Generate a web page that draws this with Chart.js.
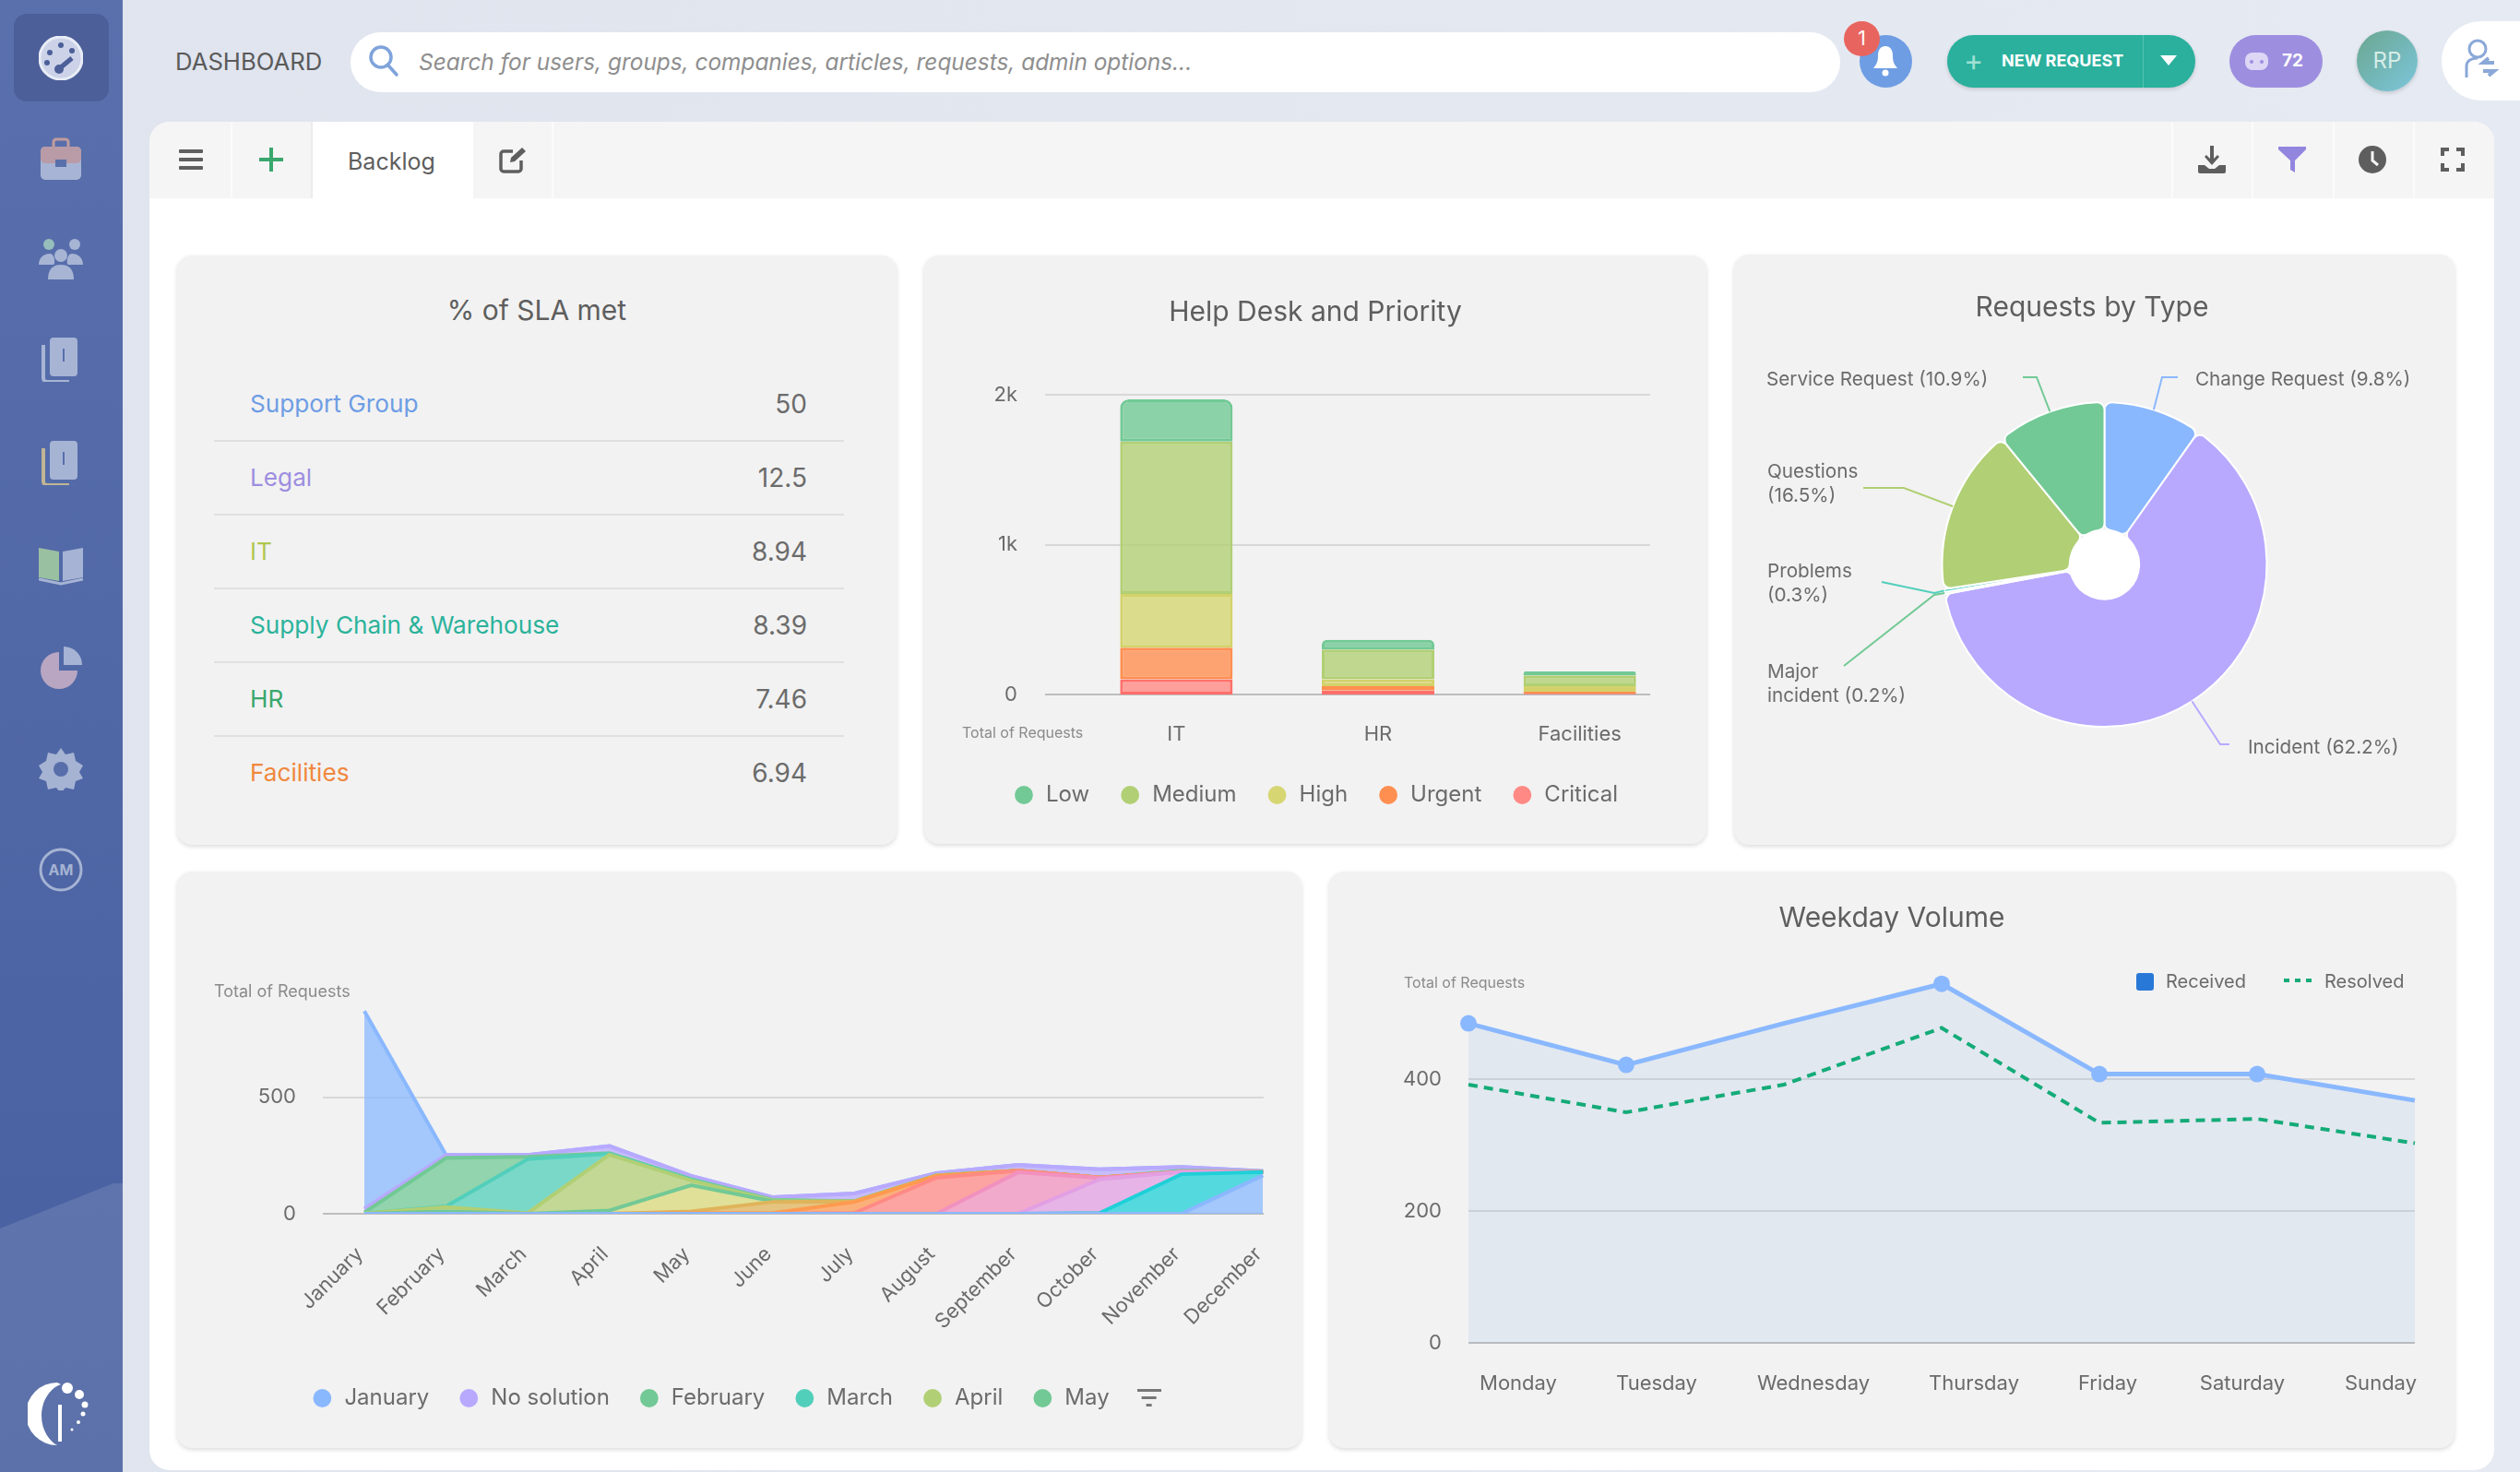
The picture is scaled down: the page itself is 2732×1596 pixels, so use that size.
<!DOCTYPE html>
<html>
<head>
<meta charset="utf-8">
<title>Dashboard</title>
<script src="https://cdn.jsdelivr.net/npm/chart.js@4/dist/chart.umd.min.js"></script>
<style>
  * { box-sizing: border-box; }
  html, body { margin: 0; width: 2732px; height: 1596px; overflow: hidden; font-family: Inter, sans-serif; color: #5e5e5e; }
  body { background: linear-gradient(90deg, #dfe4ee, #e6eaf2); position: relative; }
  .abs { position: absolute; }
  .side { left: 0; top: 0; width: 133px; height: 1596px; background: linear-gradient(180deg, #5a70ad, #4a62a2 82%); }
  .side-low { left: 0; top: 1283px; width: 133px; height: 313px; background: linear-gradient(180deg, #5f74ac, #5c71a9); clip-path: polygon(0 49px, 123px 0, 100% 0, 100% 100%, 0 100%); }
  .side-on { left: 15px; top: 15px; width: 103px; height: 95px; border-radius: 14px; background: #4c5f99; }
  .search { left: 380px; top: 35px; width: 1615px; height: 65px; border-radius: 33px; background: #fff; }
  .panel { left: 162px; top: 132px; width: 2542px; height: 1462px; background: #fff; border-radius: 22px; overflow: hidden; }
  .tabbar { left: 0; top: 0; width: 100%; height: 83px; background: #f5f5f5; }
  .tabsep { top: 0; width: 2px; height: 83px; background: #fbfbfb; }
  .card { background: #f2f2f2; border-radius: 16px; box-shadow: 0 2px 5px rgba(0,0,0,.14); }
  .card canvas { position: absolute; left: 0; top: 0; }
  .card-title { position: absolute; text-align: center; font-size: 30px; line-height: 36px; color: #5e5e5e; }
  .sla-row { position: absolute; left: 40px; width: 683px; height: 80px; border-bottom: 2px solid #e0e0e0; font-size: 26.2px; line-height: 78px; }
  .sla-row span { position: absolute; }
  .sla-row .val { right: 40px; color: #6b6b6b; font-size: 28px; }
  .sla-row:last-child { border-bottom: 0; }
  #sideIcons svg { opacity: .82; }
  #sideIcons svg:first-child, #sideIcons svg:last-child { opacity: 1; }
</style>
</head>
<body>
<div class="abs side"></div>
<div class="abs side-low"></div>
<div class="abs side-on"></div>
<div id="sideIcons"></div>

<div class="abs" style="left:190px;top:51px;font-size:25.7px;line-height:32px;color:#5a5a5a">DASHBOARD</div>
<div class="abs search"></div>
<svg class="abs" style="left:398px;top:48px" width="36" height="36" viewBox="0 0 36 36" fill="none" stroke="#7fa3db" stroke-width="3.5" stroke-linecap="round"><circle cx="15" cy="14" r="11"/><path d="M23 23l9 10"/></svg>
<div class="abs" style="left:454px;top:51px;font-size:24.4px;line-height:32px;font-style:italic;color:#8e8e8e;white-space:nowrap">Search for users, groups, companies, articles, requests, admin options...</div>

<div class="abs" style="left:2016px;top:38px;width:57px;height:57px;border-radius:50%;background:#6e9de4"></div>
<svg class="abs" style="left:2029px;top:49px" width="30" height="34" viewBox="0 0 30 34" fill="#fff"><path d="M15 1c-5 0-8 4-8 10 0 8-2 10-5 14h26c-3-4-5-6-5-14 0-6-3-10-8-10z"/><circle cx="15" cy="30" r="3.5"/></svg>
<div class="abs" style="left:1999px;top:23px;width:39px;height:38px;border-radius:50%;background:#e8655f;color:#fff;font-size:21px;line-height:38px;text-align:center">1</div>

<div class="abs" style="left:2111px;top:38px;width:269px;height:57px;border-radius:29px;background:#2ab09d;box-shadow:0 2px 4px rgba(0,0,0,.15)"></div>
<div class="abs" style="left:2323px;top:38px;width:1px;height:57px;background:#55c2b2"></div>
<div class="abs" style="left:2129px;top:46px;font-size:32px;line-height:40px;color:#9fe0d2">+</div>
<div class="abs" style="left:2170px;top:54px;font-size:18px;line-height:24px;font-weight:700;color:#fff;white-space:nowrap">NEW REQUEST</div>
<div class="abs" style="left:2342px;top:60px;width:0;height:0;border-left:9px solid transparent;border-right:9px solid transparent;border-top:11px solid #fff"></div>

<div class="abs" style="left:2417px;top:38px;width:101px;height:57px;border-radius:29px;background:#9d8ee0"></div>
<svg class="abs" style="left:2434px;top:57px" width="25" height="20" viewBox="0 0 25 20"><rect width="25" height="19" rx="8" fill="#ddd6f5"/><circle cx="7" cy="10" r="2" fill="#9d8ee0"/><circle cx="18" cy="10" r="2" fill="#9d8ee0"/></svg>
<div class="abs" style="left:2474px;top:54px;font-size:19px;line-height:24px;font-weight:700;color:#fff">72</div>

<div class="abs" style="left:2555px;top:33px;width:66px;height:66px;border-radius:50%;background:linear-gradient(135deg,#6aa68f,#7cc6dc);box-shadow:0 2px 4px rgba(0,0,0,.15);color:#d6ede8;font-size:24px;line-height:66px;text-align:center">RP</div>
<div class="abs" style="left:2647px;top:23px;width:95px;height:86px;border-radius:43px 0 0 43px;background:#fff"></div>
<svg class="abs" style="left:2670px;top:42px" width="40" height="46" viewBox="0 0 40 46" fill="none" stroke="#8aa8d8" stroke-width="3"><circle cx="16" cy="11" r="9"/><path d="M4 42V30c0-6 5-9 12-9"/><path d="M34 26H22l6-5M22 35h12l-6 5" stroke-width="4"/></svg>

<div class="abs panel">
  <div class="abs tabbar"></div>
  <div class="abs" style="left:175px;top:0;width:176px;height:84px;background:#fff"></div>
  <div class="abs tabsep" style="left:88px"></div>
  <div class="abs tabsep" style="left:175px;background:#ececec"></div>
  <div class="abs tabsep" style="left:436px"></div>
  <div class="abs tabsep" style="left:2192px"></div>
  <div class="abs tabsep" style="left:2279px"></div>
  <div class="abs tabsep" style="left:2367px"></div>
  <div class="abs tabsep" style="left:2454px"></div>
  <svg class="abs" style="left:32px;top:28px" width="26" height="26" viewBox="0 0 26 26" fill="#5e5e5e"><rect y="2" width="26" height="4" rx="1"/><rect y="11" width="26" height="4" rx="1"/><rect y="20" width="26" height="4" rx="1"/></svg>
  <svg class="abs" style="left:119px;top:28px" width="26" height="26" viewBox="0 0 26 26" fill="#3aa76d"><rect x="11" width="4" height="26"/><rect y="11" width="26" height="4"/></svg>
  <div class="abs" style="left:215px;top:27px;font-size:25px;line-height:32px;color:#5e5e5e">Backlog</div>
  <svg class="abs" style="left:379px;top:26px" width="30" height="30" viewBox="0 0 30 30" fill="none" stroke="#5e5e5e" stroke-width="3.5"><path d="M15 6H5a3 3 0 0 0-3 3v16a3 3 0 0 0 3 3h16a3 3 0 0 0 3-3V16"/><path d="M12 18l1-5L25 2l4 4-12 11z" fill="#5e5e5e" stroke="none"/></svg>
  <svg class="abs" style="left:2221px;top:26px" width="30" height="30" viewBox="0 0 30 30" fill="#5e5e5e"><rect x="13" width="4" height="17"/><path d="M7 12l8 9 8-9-2-2-6 6-6-6z"/><path d="M0 21h7l5 4h6l5-4h7v7a2 2 0 0 1-2 2H2a2 2 0 0 1-2-2z"/></svg>
  <svg class="abs" style="left:2308px;top:27px" width="30" height="28" viewBox="0 0 30 28" fill="#9285de"><path d="M0 0h30v3L18 15v13l-5-3V15L0 3z"/></svg>
  <svg class="abs" style="left:2395px;top:26px" width="30" height="30" viewBox="0 0 30 30"><circle cx="15" cy="15" r="15" fill="#5e5e5e"/><path d="M15 6v10l6 5" fill="none" stroke="#f5f5f5" stroke-width="3"/></svg>
  <svg class="abs" style="left:2484px;top:28px" width="26" height="26" viewBox="0 0 26 26" fill="none" stroke="#5e5e5e" stroke-width="4"><path d="M2 9V2h7M17 2h7v7M24 17v7h-7M9 24H2v-7"/></svg>
</div>

<div class="abs card" id="slaCard" style="left:192px;top:277px;width:780px;height:639px">
  <div class="card-title" style="left:0;width:100%;top:41px">% of SLA met</div>
  <div id="slaRows"></div>
</div>
<div class="abs card" style="left:1002px;top:277px;width:848px;height:638px"><canvas id="chart-bar" width="848" height="638"></canvas></div>
<div class="abs card" style="left:1880px;top:276px;width:781px;height:640px">
  <canvas id="chart-pie" width="781" height="640"></canvas>
  <div class="card-title" style="left:0;width:776px;top:38px">Requests by Type</div>
</div>
<div class="abs card" style="left:192px;top:945px;width:1219px;height:625px"><canvas id="chart-area" width="1219" height="625"></canvas></div>
<div class="abs card" style="left:1441px;top:945px;width:1220px;height:625px"><canvas id="chart-line" width="1220" height="625"></canvas></div>

<script>
// % of SLA met
const slaNames  = ['Support Group', 'Legal', 'IT', 'Supply Chain & Warehouse', 'HR', 'Facilities'];
const slaValues = ['50', '12.5', '8.94', '8.39', '7.46', '6.94'];
const slaColors = ['#6e9de4', '#9d8ee0', '#b0c64e', '#2bb39b', '#3aa76d', '#f0883e'];

// Help Desk and Priority
const deskLabels = ['IT', 'HR', 'Facilities'];
const deskTicks  = [0, 1000, 2000];
const deskLow      = [282, 64, 26];
const deskMedium   = [1016, 198, 72];
const deskHigh     = [359, 46, 38];
const deskUrgent   = [210, 30, 13];
const deskCritical = [102, 26, 5];

// Requests by Type
const typeNames  = ['Change Request', 'Incident', 'Major incident', 'Problems', 'Questions', 'Service Request'];
const typeValues = [9.8, 62.2, 0.2, 0.3, 16.5, 10.9];
const typeColors = ['#8ab8ff', '#b8a9ff', '#72c995', '#52cfbb', '#b1cf74', '#72c995'];

// monthly stacked area, one list per series
const months = ['January', 'February', 'March', 'April', 'May', 'June', 'July', 'August', 'September', 'October', 'November', 'December'];
const areaTicks = [0, 500];
const serJanuary   = [850, 0, 0, 0, 0, 0, 0, 0, 0, 0, 0, 0];
const serNoSol     = [16, 13, 8, 30, 14, 11, 33, 10, 25, 35, 16, 1];
const serFebruary  = [3, 208, 10, 3, 3, 3, 0, 0, 0, 0, 5, 3];
const serMarch     = [0, 3, 232, 4, 3, 0, 0, 0, 0, 0, 0, 0];
const serApril     = [2, 19, 3, 240, 20, 3, 0, 0, 0, 0, 0, 0];
const serMay       = [0, 10, 0, 14, 113, 3, 0, 0, 0, 0, 0, 0];
const serJune      = [0, 0, 0, 0, 7, 48, 3, 2, 0, 0, 0, 0];
const serJuly      = [0, 0, 0, 0, 3, 3, 47, 8, 0, 0, 0, 0];
const serAugust    = [0, 0, 0, 0, 0, 0, 4, 155, 7, 2, 0, 0];
const serSeptember = [0, 0, 0, 0, 0, 0, 0, 0, 178, 6, 0, 0];
const serOctober   = [0, 0, 0, 0, 0, 0, 0, 0, 0, 145, 10, 0];
const serNovember  = [0, 0, 0, 0, 0, 0, 0, 0, 0, 3, 170, 14];
const serDecember  = [0, 0, 0, 0, 0, 0, 0, 0, 0, 0, 0, 165];

// Weekday Volume
const weekdays = ['Monday', 'Tuesday', 'Wednesday', 'Thursday', 'Friday', 'Saturday', 'Sunday'];
const weekTicks = [0, 200, 400];
const weekReceived = [485, 422, 485, 545, 408, 408, 368];
const weekResolved = [392, 350, 392, 478, 334, 340, 303];

const TEXT = '#6b6b6b';
const NOTE = '#8a8a8a';
const AXIS_FONT = { size: 22 };

Chart.defaults.font.family = 'Inter, sans-serif';
Chart.defaults.color = TEXT;
Chart.defaults.animation = false;
Chart.defaults.responsive = false;
Chart.defaults.plugins.tooltip.enabled = false;

function rgba(hex, a) {
  const n = parseInt(hex.slice(1), 16);
  return `rgba(${n >> 16},${(n >> 8) & 255},${n & 255},${a})`;
}

// grid lines run over their own span, apart from the plot box
function bandGrid(x0, x1) {
  return {
    id: 'bandGrid',
    beforeDatasetsDraw(chart) {
      const { ctx, scales: { y } } = chart;
      ctx.save();
      y.ticks.forEach(t => {
        const py = Math.round(y.getPixelForValue(t.value));
        ctx.strokeStyle = t.value === 0 ? '#bdbdbd' : '#d8d8d8';
        ctx.lineWidth = 2;
        ctx.beginPath();
        ctx.moveTo(x0, py);
        ctx.lineTo(x1, py);
        ctx.stroke();
      });
      ctx.restore();
    },
  };
}

function axisNote(text, x, y, size) {
  return {
    id: 'axisNote',
    afterDraw(chart) {
      const ctx = chart.ctx;
      ctx.save();
      ctx.font = `${size}px Inter, sans-serif`;
      ctx.fillStyle = NOTE;
      ctx.textBaseline = 'middle';
      ctx.fillText(text, x, y);
      ctx.restore();
    },
  };
}

function titleOpts(text, top, bottom) {
  return { display: true, text, color: '#5e5e5e', font: { size: 30, weight: '400' }, padding: { top, bottom } };
}

function legendOpts(gap) {
  return { position: 'bottom', labels: { usePointStyle: true, pointStyle: 'circle', boxWidth: 24, boxHeight: 14, padding: gap, font: { size: 24 }, color: TEXT } };
}

function fixedTicks(list) {
  return s => { s.ticks = list.map(value => ({ value })); };
}

// page chrome
function initChrome() {
  const ic = '#b9c4de';
  const icons = [
    `<circle cx="24" cy="24" r="23" fill="#ccd3e8" stroke="#e8ecf6" stroke-width="3"/><circle cx="12" cy="18" r="3" fill="#4c5f99"/><circle cx="24" cy="10" r="3" fill="#4c5f99"/><circle cx="36" cy="16" r="3" fill="#4c5f99"/><circle cx="9" cy="29" r="3" fill="#4c5f99"/><path d="M36 24L24 34" stroke="#4c5f99" stroke-width="5"/><circle cx="22" cy="36" r="5" fill="#4c5f99"/>`,
    `<rect x="2" y="10" width="44" height="36" rx="5" fill="${ic}"/><rect x="16" y="2" width="16" height="10" rx="3" fill="none" stroke="#d9a79a" stroke-width="3"/><rect x="2" y="10" width="44" height="18" rx="5" fill="#cfa6a6"/><rect x="18" y="24" width="12" height="8" fill="#5a70ad"/>`,
    `<circle cx="11" cy="8" r="6" fill="#a5d0c0"/><circle cx="39" cy="8" r="6" fill="${ic}"/><circle cx="24" cy="20" r="7" fill="${ic}"/><path d="M0 30c0-8 6-12 12-12s6 12 4 12zM48 30c0-8-6-12-12-12s-6 12-4 12z" fill="${ic}"/><path d="M10 46c0-12 6-16 14-16s14 4 14 16z" fill="${ic}"/>`,
    `<rect x="12" y="0" width="30" height="42" rx="4" fill="${ic}"/><path d="M5 8v36a4 4 0 0 0 4 4h24" fill="none" stroke="${ic}" stroke-width="4"/><rect x="26" y="12" width="2" height="14" fill="#5a70ad"/>`,
    `<rect x="12" y="0" width="30" height="42" rx="4" fill="${ic}"/><path d="M5 8v36a4 4 0 0 0 4 4h24" fill="none" stroke="#d8c690" stroke-width="4"/><rect x="26" y="12" width="2" height="14" fill="#5a70ad"/>`,
    `<path d="M0 6l22 4v32L0 38z" fill="#a9d4a0"/><path d="M48 6l-22 4v32l22-4z" fill="${ic}"/><path d="M0 40l24 5 24-5" fill="none" stroke="${ic}" stroke-width="3"/>`,
    `<path d="M22 8a20 20 0 1 0 20 20H22z" fill="#cfb4c8"/><path d="M27 2a20 20 0 0 1 20 20H27z" fill="${ic}"/>`,
    `<path d="M24 2l5 7 9-2 2 9 8 5-4 7 4 7-8 3-2 9-9-2-5 6-5-6-9 2-2-9-8-3 4-7-4-7 8-5 2-9 9 2z" fill="${ic}"/><circle cx="24" cy="25" r="8" fill="#5a70ad"/>`,
    `<circle cx="24" cy="24" r="22" fill="none" stroke="${ic}" stroke-width="3"/><text x="24" y="30" font-family="Inter" font-size="16" font-weight="700" fill="${ic}" text-anchor="middle">AM</text>`,
  ];
  const rows = [63, 173, 281, 390, 502, 612, 723, 833, 943];
  let html = icons.map((svg, i) => `<svg class="abs" style="left:42px;top:${rows[i] - 24}px" width="48" height="48" viewBox="0 0 48 48">${svg}</svg>`).join('');
  html += `<svg class="abs" style="left:30px;top:1497px" width="72" height="72" viewBox="0 0 72 72" fill="#fff"><path d="M32 2a32 32 0 1 0 0 68c-8-4-17-16-17-32S24 8 36 4z"/><rect x="33" y="26" width="4" height="40"/><circle cx="43" cy="8" r="6"/><circle cx="56" cy="15" r="5"/><circle cx="62" cy="26" r="3.5"/><circle cx="60" cy="36" r="2.5"/><circle cx="55" cy="45" r="2"/><circle cx="48" cy="53" r="1.5"/></svg>`;
  document.getElementById('sideIcons').innerHTML = html;

  document.getElementById('slaRows').innerHTML = slaNames.map((name, i) =>
    `<div class="sla-row" style="top:${122 + i * 80}px"><span style="left:39px;color:${slaColors[i]}">${name.replace('&', '&amp;')}</span><span class="val">${slaValues[i]}</span></div>`
  ).join('');
}

function initBar() {
  const series = [
    ['Critical', deskCritical, '#ff8a85', '#ff6f6a'],
    ['Urgent', deskUrgent, '#ff8f50', '#ff8f50'],
    ['High', deskHigh, '#d6d673', '#d3d26a'],
    ['Medium', deskMedium, '#b1cf74', '#b1cf74'],
    ['Low', deskLow, '#72c995', '#72c995'],
  ];
  new Chart(document.getElementById('chart-bar'), {
    type: 'bar',
    data: {
      labels: deskLabels,
      datasets: series.map(([label, data, color, edge], i) => ({
        label, data,
        backgroundColor: rgba(color, 0.8),
        borderColor: edge,
        borderWidth: 3,
        borderSkipped: false,
        borderRadius: i === series.length - 1 ? { topLeft: 9, topRight: 9 } : 0,
        categoryPercentage: 1,
        barPercentage: 0.558,
      })),
    },
    options: {
      layout: { padding: { bottom: 31, left: 28, right: 28 } },
      plugins: {
        title: titleOpts('Help Desk and Priority', 44, 71),
        legend: {
          ...legendOpts(32),
          reverse: true,
          labels: {
            ...legendOpts(32).labels,
            generateLabels: chart => chart.data.datasets.map((d, i) => ({
              text: d.label, fontColor: TEXT, fillStyle: series[i][2], strokeStyle: series[i][2], lineWidth: 0, pointStyle: 'circle', datasetIndex: i,
            })),
          },
        },
      },
      scales: {
        x: {
          stacked: true,
          grid: { display: false },
          border: { display: false },
          ticks: { padding: 22, font: AXIS_FONT, maxRotation: 0 },
          afterFit: s => { s.height = 65; },
        },
        y: {
          stacked: true, min: 0, max: 2000,
          afterBuildTicks: fixedTicks(deskTicks),
          grid: { display: false },
          border: { display: false },
          ticks: { padding: 55, font: AXIS_FONT, callback: v => (v === 0 ? '0' : (v / 1000) + 'k') },
          afterFit: s => { s.width = 136; },
        },
      },
    },
    plugins: [bandGrid(131, 787), axisNote('Total of Requests', 41, 518, 16)],
  });
}

function initPie() {
  // leader line elbow and end, then text anchor, in canvas pixels
  const elbows  = [[464, 133], [527, 531], [217, 369], [217, 367], [184, 253], [328, 133]];
  const ends    = [[481, 133], [537, 531], [119, 446], [160, 355], [140, 253], [313, 133]];
  const anchors = [[500, 136], [557, 535], [36, 453], [36, 344], [36, 236], [35, 136]];
  const splitLabel = [false, false, true, true, true, false];

  const leaders = {
    id: 'pieLeaders',
    afterDatasetsDraw(chart) {
      const { ctx } = chart;
      const arcs = chart.getDatasetMeta(0).data;
      ctx.save();
      const first = arcs[0];
      ctx.fillStyle = '#fff';
      ctx.beginPath();
      ctx.arc(first.x, first.y, first.innerRadius, 0, Math.PI * 2);
      ctx.fill();
      ctx.font = '20.7px Inter, sans-serif';
      ctx.textBaseline = 'middle';
      arcs.forEach((arc, i) => {
        const mid = (arc.startAngle + arc.endAngle) / 2;
        ctx.strokeStyle = typeColors[i];
        ctx.lineWidth = 2;
        ctx.beginPath();
        ctx.moveTo(arc.x + Math.cos(mid) * arc.outerRadius, arc.y + Math.sin(mid) * arc.outerRadius);
        ctx.lineTo(elbows[i][0], elbows[i][1]);
        ctx.lineTo(ends[i][0], ends[i][1]);
        ctx.stroke();

        const pct = `(${typeValues[i].toFixed(1)}%)`;
        const [ax, ay] = anchors[i];
        ctx.fillStyle = TEXT;
        if (splitLabel[i]) {
          const words = typeNames[i].split(' ');
          const second = (words.slice(1).join(' ') + ' ' + pct).trim();
          ctx.fillText(words[0], ax, ay);
          ctx.fillText(second, ax, ay + 26);
        } else {
          ctx.fillText(`${typeNames[i]} ${pct}`, ax, ay);
        }
      });
      ctx.restore();
    },
  };

  new Chart(document.getElementById('chart-pie'), {
    type: 'doughnut',
    data: {
      labels: typeNames,
      datasets: [{
        data: typeValues,
        backgroundColor: typeColors,
        borderColor: '#ffffff',
        borderWidth: 2,
        borderRadius: 8,
      }],
    },
    options: {
      cutout: '21.4%',
      layout: { padding: { top: 159, left: 224, right: 202, bottom: 127 } },
      plugins: {
        title: { display: false },
        legend: { display: false },
      },
    },
    plugins: [leaders],
  });
}

function initArea() {
  const series = [
    ['December', serDecember, '#8ab8ff'],
    ['November', serNovember, '#1fd0d8'],
    ['October', serOctober, '#e29fe3'],
    ['September', serSeptember, '#f191bf'],
    ['August', serAugust, '#ff8a85'],
    ['July', serJuly, '#ff9a50'],
    ['June', serJune, '#e0b45a'],
    ['May', serMay, '#72c995'],
    ['April', serApril, '#b1cf74'],
    ['March', serMarch, '#52cfbb'],
    ['February', serFebruary, '#72c995'],
    ['No solution', serNoSol, '#b8a9ff'],
    ['January', serJanuary, '#8ab8ff'],
  ];
  const mayFill = '#d9d97a';

  // more-items glyph sits at the end of the legend row
  const more = document.createElement('canvas');
  more.width = 26; more.height = 24;
  const mctx = more.getContext('2d');
  mctx.fillStyle = '#777';
  mctx.fillRect(0, 2, 26, 3);
  mctx.fillRect(5, 10, 16, 3);
  mctx.fillRect(10, 18, 6, 3);

  new Chart(document.getElementById('chart-area'), {
    type: 'line',
    data: {
      labels: months,
      datasets: series.map(([label, data, color], i) => ({
        label, data,
        borderColor: color,
        backgroundColor: rgba(label === 'May' ? mayFill : color, 0.75),
        borderWidth: 4,
        pointRadius: 0,
        tension: 0,
        fill: i === 0 ? 'origin' : '-1',
      })),
    },
    options: {
      layout: { padding: { top: 144, bottom: 32, left: 32, right: 28 } },
      plugins: {
        title: { display: false },
        legend: {
          ...legendOpts(31),
          labels: {
            ...legendOpts(31).labels,
            generateLabels: chart => {
              const items = [];
              const sets = chart.data.datasets;
              for (let i = sets.length - 1; i >= sets.length - 6; i--) {
                items.push({ text: sets[i].label, fontColor: TEXT, fillStyle: sets[i].borderColor, strokeStyle: sets[i].borderColor, lineWidth: 0, pointStyle: 'circle', datasetIndex: i });
              }
              items.push({ text: '', fontColor: TEXT, fillStyle: 'transparent', strokeStyle: 'transparent', lineWidth: 0, pointStyle: more });
              return items;
            },
          },
        },
      },
      scales: {
        x: {
          stacked: true,
          offset: false,
          grid: { display: false },
          border: { display: false },
          ticks: { padding: 23, labelOffset: -5, font: AXIS_FONT, minRotation: 45, maxRotation: 45, autoSkip: false },
          afterFit: s => { s.height = 157; },
        },
        y: {
          stacked: true, min: 0, max: 900,
          afterBuildTicks: fixedTicks(areaTicks),
          grid: { display: false },
          border: { display: false },
          ticks: { padding: 66, font: AXIS_FONT },
          afterFit: s => { s.width = 171; },
        },
      },
    },
    plugins: [bandGrid(158, 1178), axisNote('Total of Requests', 40, 131, 18)],
  });
}

function initLine() {
  // weekday names sit off their ticks in the reference
  const labelNudge = [54, 33, 32, 35, 9, -16, -37];
  const weekLabels = {
    id: 'weekLabels',
    afterDraw(chart) {
      const { ctx, scales: { x } } = chart;
      ctx.save();
      ctx.font = '22px Inter, sans-serif';
      ctx.fillStyle = TEXT;
      ctx.textAlign = 'center';
      ctx.textBaseline = 'middle';
      chart.data.labels.forEach((label, i) => ctx.fillText(label, x.getPixelForValue(i) + labelNudge[i], 555));
      ctx.restore();
    },
  };
  const seriesKey = {
    id: 'seriesKey',
    afterDraw(chart) {
      const { ctx } = chart;
      const [resolved, received] = chart.data.datasets;
      ctx.save();
      ctx.font = '20px Inter, sans-serif';
      ctx.textBaseline = 'middle';
      ctx.fillStyle = '#2878d8';
      ctx.beginPath();
      ctx.roundRect(875, 110, 19, 19, 3);
      ctx.fill();
      ctx.fillStyle = TEXT;
      ctx.fillText(received.label, 907, 120);
      ctx.strokeStyle = resolved.borderColor;
      ctx.lineWidth = 4;
      ctx.setLineDash([6, 6]);
      ctx.beginPath();
      ctx.moveTo(1035, 118);
      ctx.lineTo(1067, 118);
      ctx.stroke();
      ctx.setLineDash([]);
      ctx.fillText(resolved.label, 1079, 120);
      ctx.restore();
    },
  };

  new Chart(document.getElementById('chart-line'), {
    type: 'line',
    data: {
      labels: weekdays,
      datasets: [
        {
          label: 'Resolved',
          data: weekResolved,
          borderColor: '#14ab78',
          borderWidth: 4,
          borderDash: [10, 7],
          pointRadius: 0,
          tension: 0,
          fill: false,
        },
        {
          label: 'Received',
          data: weekReceived,
          borderColor: '#8ab8ff',
          backgroundColor: 'rgba(135,175,229,0.15)',
          borderWidth: 5,
          pointRadius: [9, 9, 0, 9, 9, 9, 0],
          pointBackgroundColor: '#8ab8ff',
          pointBorderWidth: 0,
          tension: 0,
          fill: 'origin',
        },
      ],
    },
    options: {
      layout: { padding: { left: 43, right: 43 } },
      plugins: {
        title: titleOpts('Weekday Volume', 33, 42),
        legend: { display: false },
      },
      clip: false,
      scales: {
        x: {
          offset: false,
          grid: { display: false },
          border: { display: false },
          ticks: { display: false },
          afterFit: s => { s.height = 114; },
        },
        y: {
          min: 0, max: 560,
          afterBuildTicks: fixedTicks(weekTicks),
          grid: { display: false },
          border: { display: false },
          ticks: { padding: 21, font: AXIS_FONT },
          afterFit: s => { s.width = 108; },
        },
      },
    },
    plugins: [bandGrid(151, 1177), axisNote('Total of Requests', 81, 121, 16), weekLabels, seriesKey],
  });
}

initChrome();
initBar();
initPie();
initArea();
initLine();
</script>
</body>
</html>
